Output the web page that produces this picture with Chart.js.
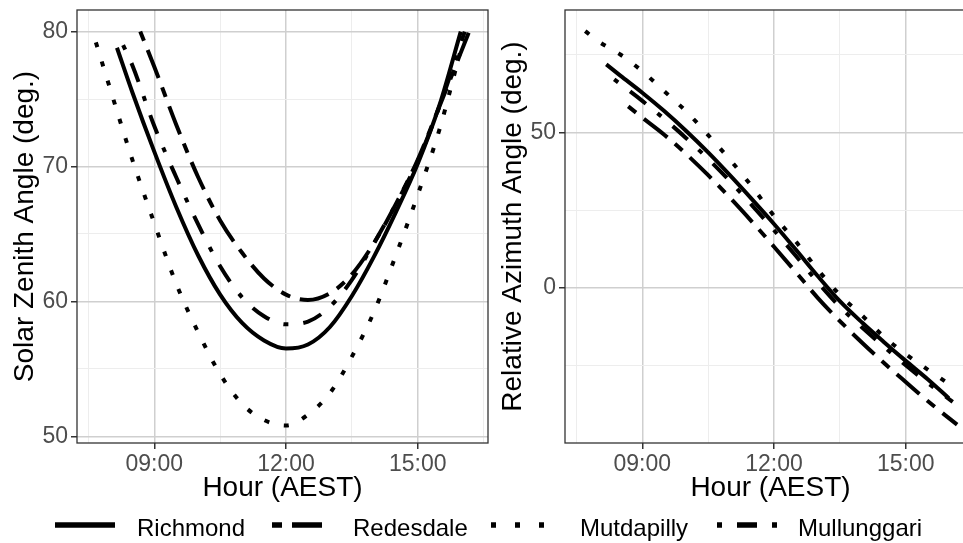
<!DOCTYPE html>
<html>
<head>
<meta charset="utf-8">
<script src="https://cdn.jsdelivr.net/npm/chart.js@4.4.1/dist/chart.umd.min.js"></script>
<style>
  html, body { margin:0; padding:0; background:#fff; width:963px; height:543px; overflow:hidden; }
  #left { position:absolute; left:0; top:0; }
  #right { position:absolute; left:490px; top:0; }
  #legend { position:absolute; left:0; top:0; }
</style>
</head>
<body>
<canvas id="left" width="490" height="505"></canvas>
<canvas id="right" width="488" height="505"></canvas>
<svg id="legend" width="963" height="543" xmlns="http://www.w3.org/2000/svg"></svg>
<script>
// ---------- DATA ----------
const seriesNames = ["Richmond", "Redesdale", "Mutdapilly", "Mullunggari"];
const xTickLabels = ["09:00", "12:00", "15:00"];
const xTickHours = [9, 12, 15];

// Solar zenith angle (left panel)
const zenRichmondHour   = [8.15, 8.5, 9, 9.5, 10, 10.5, 11, 11.5, 12, 12.5, 13, 13.5, 14, 14.5, 15, 15.5, 15.98];
const zenRichmond       = [78.8, 75.5, 71.1, 67.0, 63.4, 60.5, 58.4, 57.1, 56.5, 56.8, 58.1, 60.4, 63.3, 66.6, 70.2, 74.6, 80.0];
const zenRedesdaleHour  = [8.68, 9, 9.5, 10, 10.5, 11, 11.5, 12, 12.5, 13, 13.5, 14, 14.5, 15, 15.5, 16.17];
const zenRedesdale      = [80.0, 77.4, 73.1, 69.2, 66.0, 63.6, 61.7, 60.5, 60.1, 60.6, 62.0, 64.3, 67.2, 70.5, 74.5, 80.0];
const zenMutdapillyHour = [7.67, 8, 8.5, 9, 9.5, 10, 10.5, 11, 11.5, 12, 12.5, 13, 13.5, 14, 14.5, 15, 15.5, 15.96];
const zenMutdapilly     = [79.2, 75.7, 70.5, 65.8, 61.3, 57.7, 54.6, 52.4, 51.2, 50.8, 51.6, 53.2, 55.9, 59.2, 63.4, 67.9, 72.8, 78.4];
const zenMullunggariHour= [8.29, 8.5, 9, 9.5, 10, 10.5, 11, 11.5, 12, 12.5, 13, 13.5, 14, 14.5, 15, 15.5, 16.07];
const zenMullunggari    = [79.0, 77.5, 73.0, 69.2, 65.7, 62.6, 60.3, 58.9, 58.3, 58.5, 59.6, 61.6, 64.3, 67.2, 70.4, 74.5, 80.0];

// Relative azimuth angle (right panel)
const aziRichmondHour   = [8.18, 8.5, 9, 9.5, 10, 10.5, 11, 11.5, 12, 12.5, 13, 13.5, 14, 14.5, 15, 15.5, 15.98];
const aziRichmond       = [71.9, 68.3, 62.8, 56.9, 50.5, 43.6, 36.2, 28.5, 20.6, 12.3, 3.8, -4.2, -11.0, -17.3, -23.4, -29.3, -35.4];
const aziRedesdaleHour  = [8.68, 9, 9.5, 10, 10.5, 11, 11.5, 12, 12.5, 13, 13.5, 14, 14.5, 15, 15.5, 16.17];
const aziRedesdale      = [58.4, 54.8, 49.3, 43.1, 36.3, 29.0, 21.3, 13.3, 5.1, -3.2, -10.6, -17.5, -24.0, -30.2, -36.3, -43.9];
const aziMutdapillyHour = [7.7, 8, 8.5, 9, 9.5, 10, 10.5, 11, 11.5, 12, 12.5, 13, 13.5, 14, 14.5, 15, 15.5, 15.96];
const aziMutdapilly     = [82.6, 79.3, 75.1, 69.7, 63.3, 56.8, 49.2, 41.2, 32.6, 23.2, 14.9, 5.9, -2.2, -8.7, -15.6, -21.2, -26.2, -30.6];
const aziMullunggariHour= [8.36, 8.5, 9, 9.5, 10, 10.5, 11, 11.5, 12, 12.5, 13, 13.5, 14, 14.5, 15, 15.5, 16.07];
const aziMullunggari    = [67.1, 65.6, 60.2, 54.4, 48.2, 41.5, 34.3, 26.6, 18.6, 10.3, 1.8, -6.0, -12.6, -18.8, -24.8, -30.5, -36.6];

// ---------- STYLE ----------
const FONT = "'Liberation Sans', Arial, sans-serif";
const dashes = { Richmond: [], Redesdale: [10, 10, 30, 10], Mutdapilly: [5, 15], Mullunggari: [5, 15, 20, 15] };
const legendDash = { Richmond: "", Redesdale: "10 10 30 10", Mutdapilly: "5 19", Mullunggari: "5 15 20 15" };

function pts(xs, ys) { return xs.map((x, i) => ({ x: x, y: ys[i] })); }
function ds(name, xs, ys) {
  return {
    label: name, data: pts(xs, ys), showLine: true, pointRadius: 0, borderWidth: 4,
    borderColor: '#000', backgroundColor: '#000', borderDash: dashes[name], borderCapStyle: 'butt',
    cubicInterpolationMode: 'monotone', fill: false
  };
}
const panelBorder = {
  id: 'panelBorder',
  afterDraw(chart) {
    const { ctx, chartArea: a } = chart;
    ctx.save(); ctx.strokeStyle = '#333'; ctx.lineWidth = 1.3;
    ctx.strokeRect(a.left, a.top, a.right - a.left, a.bottom - a.top);
    ctx.restore();
  }
};

function makePanel(id, datasets, yMin, yMax, yStep, yMajor, yTitle, yTitlePad, yWidth) {
  new Chart(document.getElementById(id), {
    type: 'scatter',
    data: { datasets: datasets },
    options: {
      responsive: false, animation: false, devicePixelRatio: 1,
      layout: { padding: { top: 10, right: 2, left: 0, bottom: 0 } },
      plugins: { legend: { display: false }, tooltip: { enabled: false } },
      scales: {
        x: {
          type: 'linear', min: 7.24, max: 16.6,
          afterFit(s) { s.height = 62; s.paddingLeft = 0; s.paddingRight = 0; },
          border: { display: false },
          grid: {
            color: c => (c.tick && c.tick.value % 3 === 0) ? '#cfcfcf' : '#ededed',
            lineWidth: c => (c.tick && c.tick.value % 3 === 0) ? 1.5 : 1,
            tickColor: c => (c.tick && c.tick.value % 3 === 0) ? '#333' : 'rgba(0,0,0,0)',
            tickLength: 6, drawTicks: true
          },
          ticks: {
            stepSize: 1.5, includeBounds: false, autoSkip: false, maxRotation: 0, padding: 2,
            color: '#4d4d4d', font: { family: FONT, size: 23 },
            callback: v => { const i = xTickHours.indexOf(v); return i >= 0 ? xTickLabels[i] : ''; }
          },
          title: { display: true, text: 'Hour (AEST)', color: '#000', font: { family: FONT, size: 28 }, padding: { top: 0, bottom: 0 } }
        },
        y: {
          type: 'linear', min: yMin, max: yMax,
          afterFit(s) { s.width = yWidth; s.paddingTop = 0; s.paddingBottom = 0; },
          border: { display: false },
          grid: {
            color: c => (c.tick && c.tick.value % yMajor === 0) ? '#cfcfcf' : '#ededed',
            lineWidth: c => (c.tick && c.tick.value % yMajor === 0) ? 1.5 : 1,
            tickColor: c => (c.tick && c.tick.value % yMajor === 0) ? '#333' : 'rgba(0,0,0,0)',
            tickLength: 6, drawTicks: true
          },
          ticks: {
            stepSize: yStep, includeBounds: false, autoSkip: false, padding: 3,
            color: '#4d4d4d', font: { family: FONT, size: 23 },
            callback: v => (v % yMajor === 0) ? String(v) : ''
          },
          title: { display: true, text: yTitle, color: '#000', font: { family: FONT, size: 28 }, padding: { top: yTitlePad, bottom: 0 } }
        }
      }
    },
    plugins: [panelBorder]
  });
}

makePanel('left', [
  ds('Richmond', zenRichmondHour, zenRichmond),
  ds('Redesdale', zenRedesdaleHour, zenRedesdale),
  ds('Mutdapilly', zenMutdapillyHour, zenMutdapilly),
  ds('Mullunggari', zenMullunggariHour, zenMullunggari)
], 49.5, 81.6, 5, 10, 'Solar Zenith Angle (deg.)', 8, 77);

makePanel('right', [
  ds('Richmond', aziRichmondHour, aziRichmond),
  ds('Redesdale', aziRedesdaleHour, aziRedesdale),
  ds('Mutdapilly', aziMutdapillyHour, aziMutdapilly),
  ds('Mullunggari', aziMullunggariHour, aziMullunggari)
], -49.8, 89.4, 25, 50, 'Relative Azimuth Angle (deg.)', 6, 75);

// ---------- LEGEND ----------
const legendSampleX = [55, 272, 491, 717];
const legendTextX = [137, 353, 580, 798];
const svg = document.getElementById('legend');
const NS = 'http://www.w3.org/2000/svg';
seriesNames.forEach((name, i) => {
  const ln = document.createElementNS(NS, 'line');
  ln.setAttribute('x1', legendSampleX[i]); ln.setAttribute('x2', legendSampleX[i] + 60);
  ln.setAttribute('y1', 525); ln.setAttribute('y2', 525);
  ln.setAttribute('stroke', '#000'); ln.setAttribute('stroke-width', 5.5);
  if (legendDash[name]) ln.setAttribute('stroke-dasharray', legendDash[name]);
  svg.appendChild(ln);
  const t = document.createElementNS(NS, 'text');
  t.setAttribute('x', legendTextX[i]); t.setAttribute('y', 535.5);
  t.setAttribute('font-family', "Liberation Sans, Arial, sans-serif");
  t.setAttribute('font-size', 24); t.setAttribute('fill', '#000');
  t.textContent = name;
  svg.appendChild(t);
});
</script>
</body>
</html>
